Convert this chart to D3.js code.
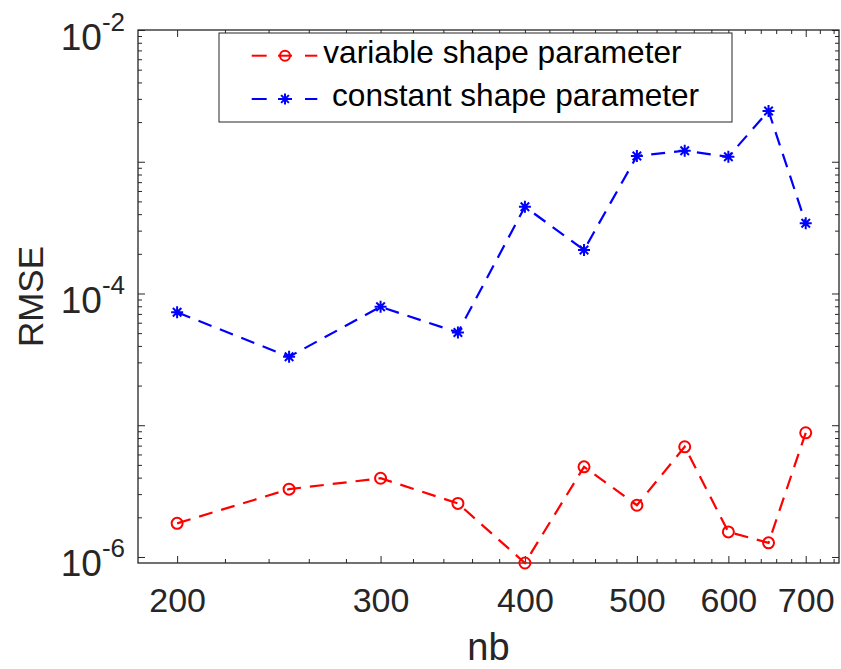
<!DOCTYPE html>
<html>
<head>
<meta charset="utf-8">
<script src="https://cdn.jsdelivr.net/npm/d3@7/dist/d3.min.js"></script>
<style>
  body { margin: 0; background: #fff; }
  text { font-family: "Liberation Sans", Arial, Helvetica, sans-serif; }
</style>
</head>
<body>
<svg id="root" width="841" height="669"></svg>
<script>
var d3 = window.d3

const width = 841
const height = 669

// data
const nb = [200, 250, 300, 350, 400, 450, 500, 550, 600, 650, 700]
const variableShape = [1.80e-6, 3.27e-6, 3.96e-6, 2.55e-6, 9.0e-7, 4.83e-6, 2.47e-6, 6.86e-6, 1.55e-6, 1.28e-6, 8.76e-6]
const constantShape = [7.2e-5, 3.31e-5, 7.93e-5, 5.06e-5, 4.55e-4, 2.14e-4, 1.105e-3, 1.213e-3, 1.09e-3, 2.43e-3, 3.41e-4]

const xTicks = [200, 300, 400, 500, 600, 700]
const xMinor = d3.range(220, 760, 20).filter(v => v % 100 !== 0)
const yTicks = [1e-6, 1e-4, 1e-2]
const yDecades = [1e-6, 1e-5, 1e-4, 1e-3, 1e-2]
const yMinor = []
for (let e = -7; e <= -3; e++) {
  for (let m = 2; m <= 9; m++) {
    const v = m * Math.pow(10, e)
    if (v > 9.05e-7 && v < 1e-2) yMinor.push(v)
  }
}

const legendLabels = ['variable shape parameter', ' constant shape parameter']

// plot box
const boxLeft = 138
const boxRight = 839
const boxTop = 30
const boxBottom = 563

const svg = d3.select('#root')
svg.append('rect').attr('width', width).attr('height', height).attr('fill', '#fff')

const xScale = d3.scaleLog().domain([185, 748]).range([boxLeft, boxRight])
const yScale = d3.scaleLog().domain([9e-7, 1e-2]).range([boxBottom, boxTop])

const axisColor = '#262626'

// axes (ticks pointing inward, mirrored on top and right)
function styleAxis (g) {
  g.select('.domain').remove()
  g.selectAll('.tick line').attr('stroke', axisColor).attr('stroke-width', 1)
}

svg.append('g')
  .attr('transform', `translate(0, ${boxBottom})`)
  .call(d3.axisBottom(xScale).tickValues(xTicks).tickFormat(d => d).tickSize(-7).tickPadding(25))
  .call(styleAxis)
  .call(g => g.selectAll('.tick text')
    .attr('fill', axisColor)
    .style('font-size', '34px'))

svg.append('g')
  .attr('transform', `translate(0, ${boxBottom})`)
  .call(d3.axisBottom(xScale).tickValues(xMinor).tickFormat('').tickSize(-4))
  .call(styleAxis)

svg.append('g')
  .attr('transform', `translate(0, ${boxTop})`)
  .call(d3.axisTop(xScale).tickValues(xTicks).tickFormat('').tickSize(-7))
  .call(styleAxis)

svg.append('g')
  .attr('transform', `translate(0, ${boxTop})`)
  .call(d3.axisTop(xScale).tickValues(xMinor).tickFormat('').tickSize(-4))
  .call(styleAxis)

svg.append('g')
  .attr('transform', `translate(${boxLeft}, 0)`)
  .call(d3.axisLeft(yScale).tickValues(yDecades).tickFormat('').tickSize(-7))
  .call(styleAxis)

svg.append('g')
  .attr('transform', `translate(${boxLeft}, 0)`)
  .call(d3.axisLeft(yScale).tickValues(yMinor).tickFormat('').tickSize(-4))
  .call(styleAxis)

svg.append('g')
  .attr('transform', `translate(${boxRight}, 0)`)
  .call(d3.axisRight(yScale).tickValues(yDecades).tickFormat('').tickSize(-7))
  .call(styleAxis)

svg.append('g')
  .attr('transform', `translate(${boxRight}, 0)`)
  .call(d3.axisRight(yScale).tickValues(yMinor).tickFormat('').tickSize(-4))
  .call(styleAxis)

// y tick labels 10^n
const yLabels = svg.append('g')
  .selectAll('text.ylab')
  .data(yTicks)
  .enter()
  .append('text')
  .attr('class', 'ylab')
  .attr('text-anchor', 'end')
  .attr('x', boxLeft - 13)
  .attr('y', d => yScale(d) + 19.5)
  .attr('fill', axisColor)
  .style('font-size', '37px')
yLabels.append('tspan').text('10')
yLabels.append('tspan')
  .attr('dy', -19)
  .style('font-size', '26px')
  .text(d => Math.round(Math.log10(d)))

// box
svg.append('rect')
  .attr('x', boxLeft)
  .attr('y', boxTop)
  .attr('width', boxRight - boxLeft)
  .attr('height', boxBottom - boxTop)
  .attr('fill', 'none')
  .attr('stroke', axisColor)
  .attr('stroke-width', 1.3)

// axis titles
svg.append('text')
  .attr('x', (boxLeft + boxRight) / 2)
  .attr('y', 660)
  .attr('text-anchor', 'middle')
  .attr('fill', axisColor)
  .style('font-size', '38px')
  .text('nb')

svg.append('text')
  .attr('transform', `translate(43, ${(boxTop + boxBottom) / 2}) rotate(-90)`)
  .attr('text-anchor', 'middle')
  .attr('fill', axisColor)
  .style('font-size', '35px')
  .text('RMSE')

// lines
const line = d3.line()
  .x(d => xScale(d[0]))
  .y(d => yScale(d[1]))

const seriesRed = nb.map((d, i) => [d, variableShape[i]])
const seriesBlue = nb.map((d, i) => [d, constantShape[i]])

svg.append('path')
  .datum(seriesRed)
  .attr('d', line)
  .attr('fill', 'none')
  .attr('stroke', '#ff0000')
  .attr('stroke-width', 2.2)
  .attr('stroke-dasharray', '14,9')

svg.append('path')
  .datum(seriesBlue)
  .attr('d', line)
  .attr('fill', 'none')
  .attr('stroke', '#0000ff')
  .attr('stroke-width', 2.2)
  .attr('stroke-dasharray', '14,9')

// markers
function starPath (r) {
  const a = r * 0.7071
  return `M${-r},0L${r},0M0,${-r}L0,${r}M${-a},${-a}L${a},${a}M${-a},${a}L${a},${-a}`
}

svg.selectAll('circle.var')
  .data(seriesRed)
  .enter()
  .append('circle')
  .attr('class', 'var')
  .attr('cx', d => xScale(d[0]))
  .attr('cy', d => yScale(d[1]))
  .attr('r', 5.5)
  .attr('fill', 'none')
  .attr('stroke', '#ff0000')
  .attr('stroke-width', 2)

svg.selectAll('path.const')
  .data(seriesBlue)
  .enter()
  .append('path')
  .attr('class', 'const')
  .attr('transform', d => `translate(${xScale(d[0])}, ${yScale(d[1])})`)
  .attr('d', starPath(6))
  .attr('fill', 'none')
  .attr('stroke', '#0000ff')
  .attr('stroke-width', 2)

// legend
const legend = svg.append('g')
legend.append('rect')
  .attr('x', 219)
  .attr('y', 33)
  .attr('width', 513)
  .attr('height', 89)
  .attr('fill', '#fff')
  .attr('stroke', axisColor)
  .attr('stroke-width', 1)

const legendColors = ['#ff0000', '#0000ff']
const legendY = [55.7, 99]

legendLabels.forEach((label, i) => {
  const cy = legendY[i]
  const c = legendColors[i]
  legend.append('line')
    .attr('x1', 251.7).attr('x2', 266.7).attr('y1', cy).attr('y2', cy)
    .attr('stroke', c).attr('stroke-width', 2)
  legend.append('line')
    .attr('x1', 278).attr('x2', 292).attr('y1', cy).attr('y2', cy)
    .attr('stroke', c).attr('stroke-width', 2)
  legend.append('line')
    .attr('x1', 305).attr('x2', 317.3).attr('y1', cy).attr('y2', cy)
    .attr('stroke', c).attr('stroke-width', 2)
  if (i === 0) {
    legend.append('circle')
      .attr('cx', 285).attr('cy', cy).attr('r', 5)
      .attr('fill', 'none').attr('stroke', c).attr('stroke-width', 2)
  } else {
    legend.append('path')
      .attr('transform', `translate(285, ${cy})`)
      .attr('d', starPath(5.5))
      .attr('fill', 'none').attr('stroke', c).attr('stroke-width', 2)
  }
  legend.append('text')
    .attr('x', 323.3)
    .attr('y', cy + 7)
    .attr('fill', '#000')
    .style('font-size', '31.6px')
    .style('white-space', 'pre')
    .attr('xml:space', 'preserve')
    .text(label)
})
</script>
</body>
</html>
